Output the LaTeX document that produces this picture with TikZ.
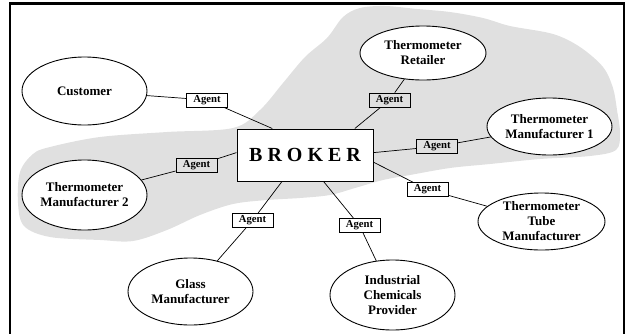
\documentclass[tikz,border=0pt]{standalone}
\usepackage{fontspec}
\setmainfont{Liberation Serif}
\usetikzlibrary{shapes.geometric}
\definecolor{cloudgray}{RGB}{224,224,224}
\begin{document}
\begin{tikzpicture}[x=1pt,y=-1pt,
  party/.style={ellipse,draw,line width=0.9pt,fill=white,inner sep=0pt,align=center,
    font=\bfseries\fontsize{13}{15}\selectfont},
  agentbox/.style={draw,line width=0.8pt,minimum width=41pt,minimum height=14pt,inner sep=0pt,
    font=\bfseries\fontsize{10.7}{12}\selectfont},
  brokerbox/.style={draw,line width=1pt,fill=white,minimum width=136pt,minimum height=52pt,inner sep=0pt,
    font=\bfseries\fontsize{20}{24}\selectfont},
  link/.style={line width=0.7pt}]
\useasboundingbox (0,0) rectangle (630,333);

% shaded region
\fill[cloudgray] plot[smooth cycle, tension=0.55] coordinates {
  (330,195) (300,198) (267,200) (233,204) (200,215) (167,230) (133,241) (100,240)
  (50,237) (24,226) (18,203) (20,172) (33,154) (50,147) (100,137) (167,132)
  (233,128) (260,110) (283,83) (305,57) (327,38) (343,17) (360,8) (385,6)
  (417,9) (450,12) (483,18) (510,26) (553,34) (580,47) (603,67) (613,88)
  (617,110) (620,133) (616,150) (590,156) (540,159) (490,164) (450,168)
  (410,175) (383,180) (355,188)};

% outer frame
\draw[line width=2.8pt] (10,345) -- (10,3.2) -- (624,3.2) -- (624,345);

% parties
\node[party,minimum width=125pt,minimum height=68pt] (cust) at (84.5,91) {Customer};
\node[party,minimum width=126pt,minimum height=54pt] (retail) at (423,53) {Thermometer\\Retailer};
\node[party,minimum width=125pt,minimum height=57pt] (tm1) at (549.5,126.5) {Thermometer\\Manufacturer 1};
\node[party,minimum width=125pt,minimum height=70pt] (tm2) at (84.5,195) {Thermometer\\Manufacturer 2};
\node[party,minimum width=127pt,minimum height=57pt] (tube) at (541.5,221.5) {Thermometer\\Tube\\Manufacturer};
\node[party,minimum width=125pt,minimum height=67pt] (glass) at (190.5,291.5) {Glass\\Manufacturer};
\node[party,minimum width=125pt,minimum height=70pt] (chem) at (392.5,295) {Industrial\\Chemicals\\Provider};

% broker
\node[brokerbox] (broker) at (305,155) {B R O K E R};

% agents
\node[agentbox] (a1) at (207,100) {Agent};
\node[agentbox] (a2) at (196.5,165.5) {Agent};
\node[agentbox] (a3) at (389.5,100) {Agent};
\node[agentbox] (a4) at (437,146.5) {Agent};
\node[agentbox] (a5) at (252.5,220.5) {Agent};
\node[agentbox] (a6) at (359.5,225.5) {Agent};
\node[agentbox] (a7) at (427.5,189.5) {Agent};

% connectors
\draw[link] (cust) -- (a1) -- (broker.141);
\draw[link] (tm2) -- (a2) -- (broker.178);
\draw[link] (retail) -- (a3) -- (broker.28);
\draw[link] (tm1) -- (a4) -- (broker.2.5);
\draw[link] (tube) -- (a7) -- (broker.-6);
\draw[link] (chem) -- (a6) -- (broker.-55);
\draw[link] (glass) -- (a5) -- (broker.-131);
\end{tikzpicture}
\end{document}
